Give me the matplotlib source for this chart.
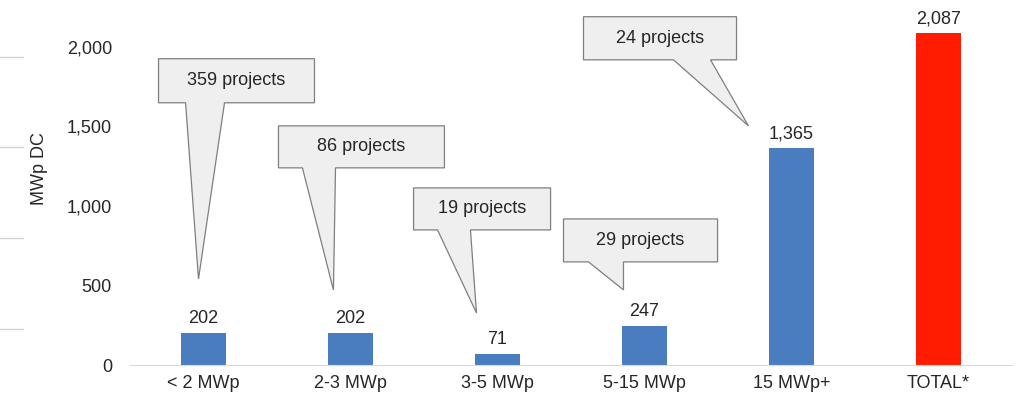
import numpy as np
import matplotlib
matplotlib.use("Agg")
import matplotlib.pyplot as plt
from matplotlib.patches import Polygon
from matplotlib.lines import Line2D

plt.rcParams['font.family'] = ['Liberation Sans', 'DejaVu Sans']

categories = ["< 2 MWp", "2-3 MWp", "3-5 MWp", "5-15 MWp", "15 MWp+", "TOTAL*"]
capacity = [202, 202, 71, 247, 1365, 2087]
project_counts = [359, 86, 19, 29, 24]
bar_colors = ["#4a7dc0"] * 5 + ["#ff1c00"]

# callout layout (data units): box (x0, x1, y0, y1), tail base (xa, xb), tip (x, y)
callouts = [
    ((-0.306, 0.755, 1648, 1925), (-0.122, 0.143), (-0.034, 541)),
    ((0.510, 1.639, 1239, 1503), (0.673, 0.898), (0.884, 472)),
    ((1.429, 2.361, 849, 1113), (1.592, 1.816), (1.857, 327)),
    ((2.449, 3.497, 648, 918), (2.619, 2.857), (2.857, 472)),
    ((2.585, 3.626, 1918, 2189), (3.197, 3.449), (3.707, 1503)),
]

FS = 13
TXT = "#262626"

fig = plt.figure(figsize=(10.23, 4.01), dpi=100)
ax = fig.add_axes([130 / 1023, 36 / 401, 882 / 1023, 358 / 401])

x = np.arange(len(categories))
ax.bar(x, capacity, width=0.31, color=bar_colors, zorder=2)

for xi, v in zip(x, capacity):
    ax.annotate(f"{v:,}", (xi, v), xytext=(0, 4), textcoords="offset points",
                ha="center", va="bottom", fontsize=FS, color=TXT)

for (box, base, tip), n in zip(callouts, project_counts):
    x0, x1, y0, y1 = box
    xa, xb = base
    pts = [(x0, y1), (x1, y1), (x1, y0), (xb, y0), tip, (xa, y0), (x0, y0)]
    ax.add_patch(Polygon(pts, closed=True, facecolor="#efefef",
                         edgecolor="#7f7f7f", linewidth=0.9, zorder=3))
    ax.text((x0 + x1) / 2, (y0 + y1) / 2, f"{n} projects", ha="center",
            va="center", fontsize=FS, color=TXT, zorder=4)

ax.set_xlim(-0.5, 5.5)
ax.set_ylim(0, 2250)
ax.set_yticks([0, 500, 1000, 1500, 2000])
ax.set_yticklabels(["0", "500", "1,000", "1,500", "2,000"])
ax.set_xticks(x)
ax.set_xticklabels(categories)
ax.tick_params(length=0, labelsize=FS, labelcolor=TXT)
ax.tick_params(axis="y", pad=13)
ax.tick_params(axis="x", pad=7)
for s in ["top", "right", "left"]:
    ax.spines[s].set_visible(False)
ax.spines["bottom"].set_color("#d9d9d9")
ax.set_ylabel("MWp DC", fontsize=FS, color=TXT)
ax.yaxis.set_label_coords(-0.093, 0.55)

# faint gridline stubs at the left edge
for py in [57, 147, 238, 329]:
    fig.add_artist(Line2D([0, 23 / 1023], [1 - py / 401, 1 - py / 401],
                          color="#d4d4d4", linewidth=1))

fig.savefig("out.png", dpi=100)
